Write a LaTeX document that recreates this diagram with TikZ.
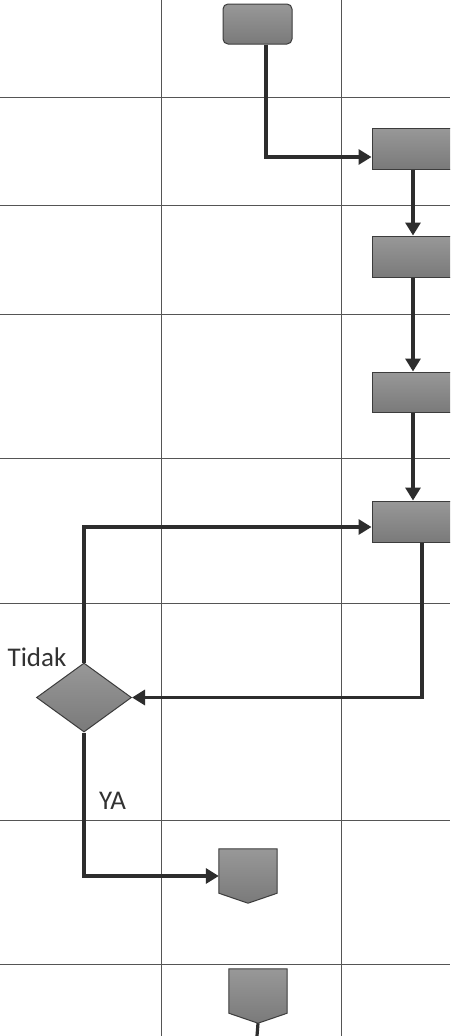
\documentclass[tikz,border=0pt]{standalone}
\usepackage{fontspec}
\setmainfont{Carlito}
\usetikzlibrary{arrows.meta,shapes.geometric}
\definecolor{boxfillA}{RGB}{152,152,152}
\definecolor{boxfillB}{RGB}{122,122,122}
\definecolor{boxline}{RGB}{60,60,60}
\definecolor{wire}{RGB}{45,45,45}
\definecolor{gridc}{RGB}{85,85,85}
\definecolor{txt}{RGB}{50,50,50}
\tikzset{
  gridline/.style={draw=gridc,line width=1pt},
  procbox/.style={rectangle,draw=boxline,line width=1pt,top color=boxfillA,bottom color=boxfillB,inner sep=0pt},
  decision/.style={diamond,draw=boxline,line width=1pt,top color=boxfillA,bottom color=boxfillB,inner sep=0pt},
  slot/.style={rectangle,inner sep=0pt},
  pent/.style={draw=boxline,line width=1pt,top color=boxfillA,bottom color=boxfillB},
  wireline/.style={draw=wire,line width=3.2pt},
  arr/.style={wireline,-{Triangle[length=13pt,width=15pt]}},
  lbl/.style={text=txt,font=\fontsize{27}{30}\selectfont,inner sep=0pt}
}
\begin{document}
\begin{tikzpicture}[x=1pt,y=-1pt]
  \useasboundingbox (0,0) rectangle (450,1036);
  \clip (0,0) rectangle (450,1036);
  \fill[white] (0,0) rectangle (450,1036);

  % lane grid
  \foreach \gx in {161,341} \draw[gridline] (\gx,0) -- (\gx,1036);
  \foreach \gy in {97,205,314,458,603,820,964} \draw[gridline] (0,\gy) -- (450,\gy);

  % connector columns and rows
  \coordinate (xa) at (266,0);
  \coordinate (xb) at (413,0);
  \coordinate (xc) at (422,0);
  \coordinate (ya) at (0,157);
  \coordinate (yb) at (0,527);
  \coordinate (bottom) at (257,1036);

  % process steps
  \node[procbox,rounded corners=5pt,minimum width=69pt,minimum height=40pt] (b1) at (257.5,24) {};
  \node[procbox,minimum width=100pt,minimum height=41pt] (b2) at (422,148.5) {};
  \node[procbox,minimum width=100pt,minimum height=41pt] (b3) at (422,256.5) {};
  \node[procbox,minimum width=100pt,minimum height=40pt] (b4) at (422,392) {};
  \node[procbox,minimum width=100pt,minimum height=41pt] (b5) at (422,521.5) {};

  % decision
  \node[decision,minimum width=95pt,minimum height=69pt] (d) at (84,697.5) {};

  % off-page connectors
  \node[slot,minimum width=58pt,minimum height=54pt] (p1) at (248,876) {};
  \node[slot,minimum width=58pt,minimum height=54pt] (p2) at (258,996) {};
  \foreach \p in {p1,p2}
    \path[pent] (\p.north west) -- (\p.north east) -- ([yshift=10pt]\p.south east)
      -- (\p.south) -- ([yshift=10pt]\p.south west) -- cycle;

  % connectors
  \draw[arr] (b1.south -| xa) |- (b2.west |- ya);
  \draw[arr] (b2.south -| xb) -- (b3.north -| xb);
  \draw[arr] (b3.south -| xb) -- (b4.north -| xb);
  \draw[arr] (b4.south -| xb) -- (b5.north -| xb);
  \draw[arr] (b5.south -| xc) |- (d.east);
  \draw[arr] (d.north) |- (b5.west |- yb);
  \draw[arr] (d.south) |- (p1.west);
  \draw[wireline] (p2.south) -- (bottom);

  % branch labels
  \node[lbl] (tidak) at (37,657) {Tidak};
  \node[lbl] (ya) at (112.5,801) {YA};
\end{tikzpicture}
\end{document}
